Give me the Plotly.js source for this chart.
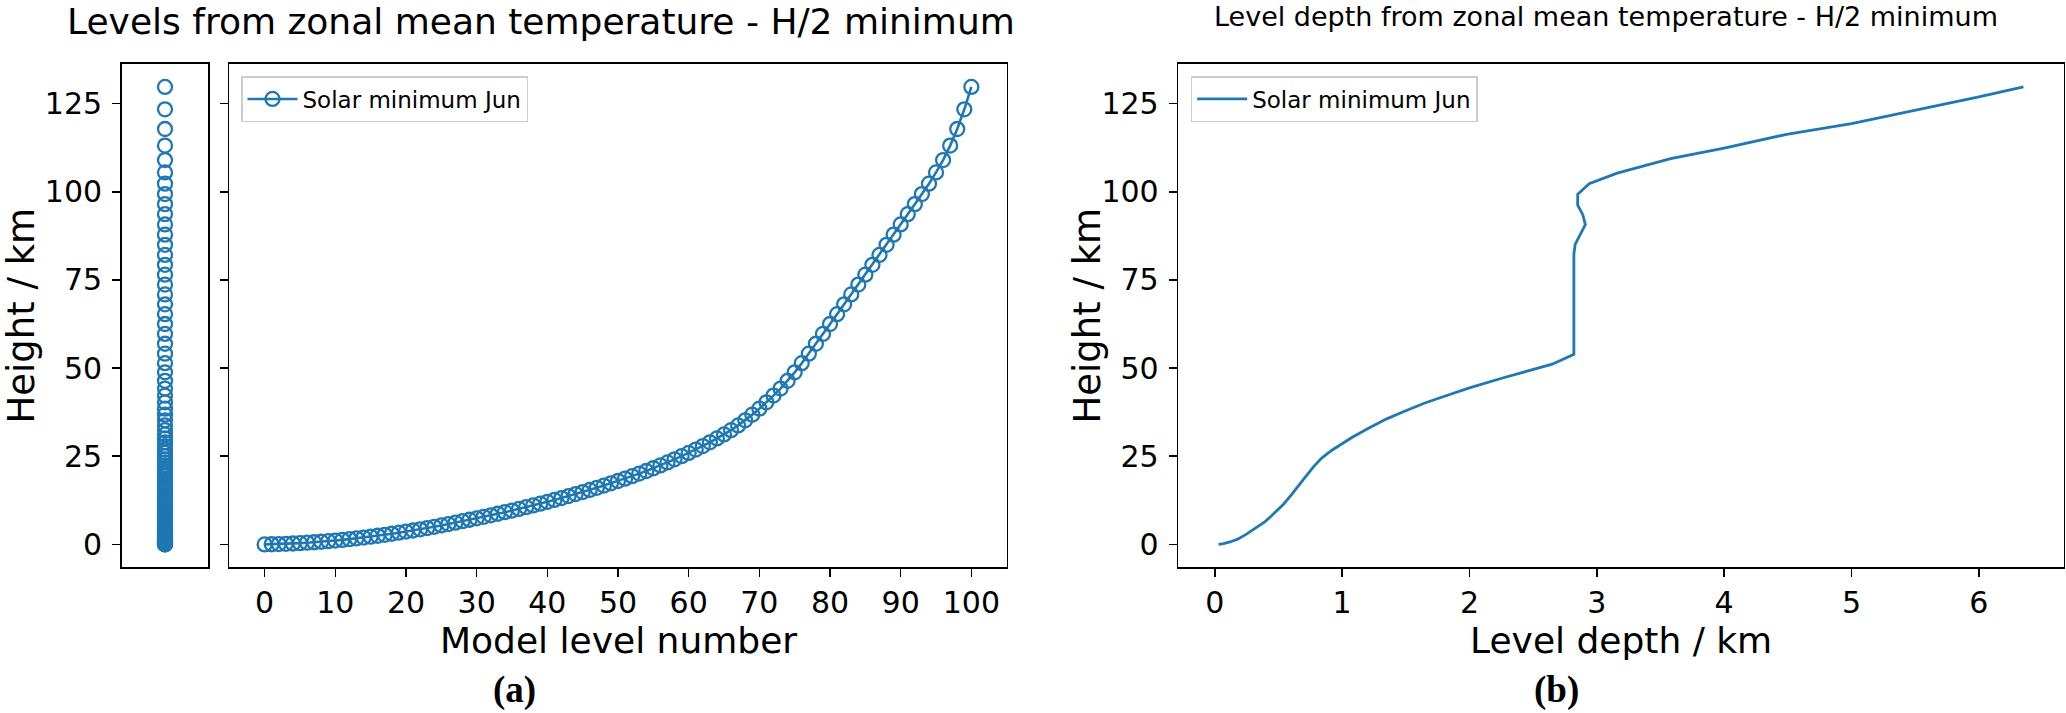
<!DOCTYPE html>
<html>
<head>
<meta charset="utf-8">
<script src="https://cdn.plot.ly/plotly-3.0.1.min.js"></script>
<style>html,body{margin:0;padding:0;background:#fff;}#chart{width:2066px;height:713px;}</style>
</head>
<body>
<div id="chart"></div>
<script>
// ---- data ----
const levelNumbers = [0,1,2,3,4,5,6,7,8,9,10,11,12,13,14,15,16,17,18,19,20,21,22,23,24,25,26,27,28,29,30,31,32,33,34,35,36,37,38,39,40,41,42,43,44,45,46,47,48,49,50,51,52,53,54,55,56,57,58,59,60,61,62,63,64,65,66,67,68,69,70,71,72,73,74,75,76,77,78,79,80,81,82,83,84,85,86,87,88,89,90,91,92,93,94,95,96,97,98,99,100];
const levelHeightKm = [
  0.00,0.04,0.10,0.17,0.26,0.36,0.48,0.61,0.76,0.92,
  1.10,1.29,1.50,1.72,1.95,2.20,2.46,2.73,3.02,3.32,
  3.63,3.95,4.29,4.64,5.00,5.38,5.77,6.17,6.59,7.00,
  7.40,7.82,8.25,8.69,9.14,9.60,10.07,10.55,11.05,11.56,
  12.08,12.61,13.15,13.70,14.27,14.85,15.45,16.06,16.69,17.33,
  17.98,18.66,19.36,20.08,20.82,21.60,22.40,23.25,24.12,25.02,
  25.95,26.90,27.90,28.95,30.05,31.20,32.40,33.75,35.20,36.80,
  38.50,40.30,42.20,44.20,46.40,48.80,51.40,54.10,56.90,59.70,
  62.50,65.30,68.10,70.90,73.70,76.50,79.30,82.10,84.95,87.85,
  90.75,93.65,96.50,99.35,102.30,105.50,109.00,113.10,117.80,123.40,
  129.75];
const depthKm = [0.03,0.07,0.12,0.18,0.24,0.31,0.39,0.46,0.54,0.60,0.66,0.72,0.78,0.84,0.92,0.99,1.08,1.20,1.35,1.50,1.65,1.81,2.00,2.26,2.45,2.65,2.82,2.82,2.83,2.87,2.91,2.89,2.85,2.85,2.94,3.16,3.46,3.58,4.00,4.49,5.00,5.61,6.00,6.35];
const depthHeightKm = [0,0.2,0.7,1.5,2.7,4.3,6.3,8.6,11.4,14.0,16.9,19.5,22.2,24.5,26.7,28.4,30.4,32.8,35.6,37.9,40.1,42.1,44.4,47.2,49.2,51.1,53.9,82.3,85.1,87.9,90.7,93.5,96.2,99.3,102.3,105.3,108.2,109.4,112.4,116.3,119.3,123.9,126.9,129.75];
const seriesName = "Solar minimum Jun";
const titleA = "Levels from zonal mean temperature - H/2 minimum";
const titleB = "Level depth from zonal mean temperature - H/2 minimum";
const yTitle = "Height / km";
const xTitleA = "Model level number";
const xTitleB = "Level depth / km";

// ---- layout helpers ----
const W = 2066, H = 713;
const px = x => x / W;
const py = y => 1 - y / H;
const blue = '#1f77b4';
const FONT = 'DejaVu Sans, Verdana, sans-serif';
const TICKF = {family: FONT, size: 30, color: '#000'};
const yDom = [py(567.3), py(64)];
const yRange = [-6.49, 136.24];

const baseAxis = {
  showline: true, mirror: true, linecolor: '#000', linewidth: 1.6,
  showgrid: false, zeroline: false, ticks: 'outside', ticklen: 8,
  tickwidth: 1.6, tickcolor: '#000', tickfont: TICKF, fixedrange: true
};

const openCircle = {symbol: 'circle-open', size: 14, color: blue, line: {width: 2.3, color: blue}};

const traces = [
  { // strip of levels
    x: levelHeightKm.map(() => 0), y: levelHeightKm, xaxis: 'x', yaxis: 'y',
    type: 'scatter', mode: 'markers', showlegend: false, hoverinfo: 'skip',
    marker: openCircle
  },
  { // height vs level number
    x: levelNumbers, y: levelHeightKm, xaxis: 'x2', yaxis: 'y2',
    type: 'scatter', mode: 'lines+markers', name: seriesName, legend: 'legend',
    line: {color: blue, width: 2.6}, marker: openCircle
  },
  { // height vs level depth
    x: depthKm, y: depthHeightKm, xaxis: 'x3', yaxis: 'y3',
    type: 'scatter', mode: 'lines', name: seriesName, legend: 'legend2',
    line: {color: blue, width: 2.8}
  }
];

const legendBase = {
  xanchor: 'left', yanchor: 'top', bgcolor: 'rgba(255,255,255,0.8)',
  bordercolor: '#cccccc', borderwidth: 1.5,
  font: {family: FONT, size: 23, color: '#000'}, itemwidth: 50
};

const ann = (text, x, y, size, extra) => Object.assign({
  text: text, x: px(x), y: py(y), xref: 'paper', yref: 'paper',
  xanchor: 'center', yanchor: 'middle', showarrow: false,
  font: {family: FONT, size: size, color: '#000'}
}, extra || {});
const serif = {family: 'Liberation Serif, Times New Roman, serif', size: 37, color: '#000'};

const layout = {
  width: W, height: H, margin: {l: 0, r: 0, t: 0, b: 0},
  paper_bgcolor: '#fff', plot_bgcolor: '#fff',
  font: {family: FONT, color: '#000'},
  showlegend: true,
  xaxis: Object.assign({}, baseAxis, {domain: [px(121.7), px(208.3)], range: [-0.055, 0.055],
    ticks: '', showticklabels: false, anchor: 'y'}),
  yaxis: Object.assign({}, baseAxis, {domain: yDom, range: yRange, tick0: 0, dtick: 25,
    anchor: 'x', ticklabelstandoff: 4}),
  xaxis2: Object.assign({}, baseAxis, {domain: [px(229.3), px(1006.7)], range: [-5, 105],
    tick0: 0, dtick: 10, anchor: 'y2'}),
  yaxis2: Object.assign({}, baseAxis, {domain: yDom, range: yRange, tick0: 0, dtick: 25,
    showticklabels: false, anchor: 'x2'}),
  xaxis3: Object.assign({}, baseAxis, {domain: [px(1178.3), px(2063.7)], range: [-0.286, 6.666],
    tick0: 0, dtick: 1, anchor: 'y3'}),
  yaxis3: Object.assign({}, baseAxis, {domain: yDom, range: yRange, tick0: 0, dtick: 25,
    anchor: 'x3', ticklabelstandoff: 4}),
  legend: Object.assign({}, legendBase, {x: px(241), y: py(76)}),
  legend2: Object.assign({}, legendBase, {x: px(1190.7), y: py(76)}),
  annotations: [
    ann(titleA, 541, 22, 36),
    ann(titleB, 1606, 16, 27),
    ann(yTitle, 22, 315.6, 37, {textangle: -90}),
    ann(yTitle, 1088, 315.6, 37, {textangle: -90}),
    ann(xTitleA, 618, 640, 36),
    ann(xTitleB, 1621, 640, 36),
    ann('<b>(a)</b>', 514, 690, 37, {font: serif}),
    ann('<b>(b)</b>', 1556, 690, 37, {font: serif})
  ]
};

Plotly.newPlot('chart', traces, layout, {displayModeBar: false, staticPlot: true});
</script>
</body>
</html>
